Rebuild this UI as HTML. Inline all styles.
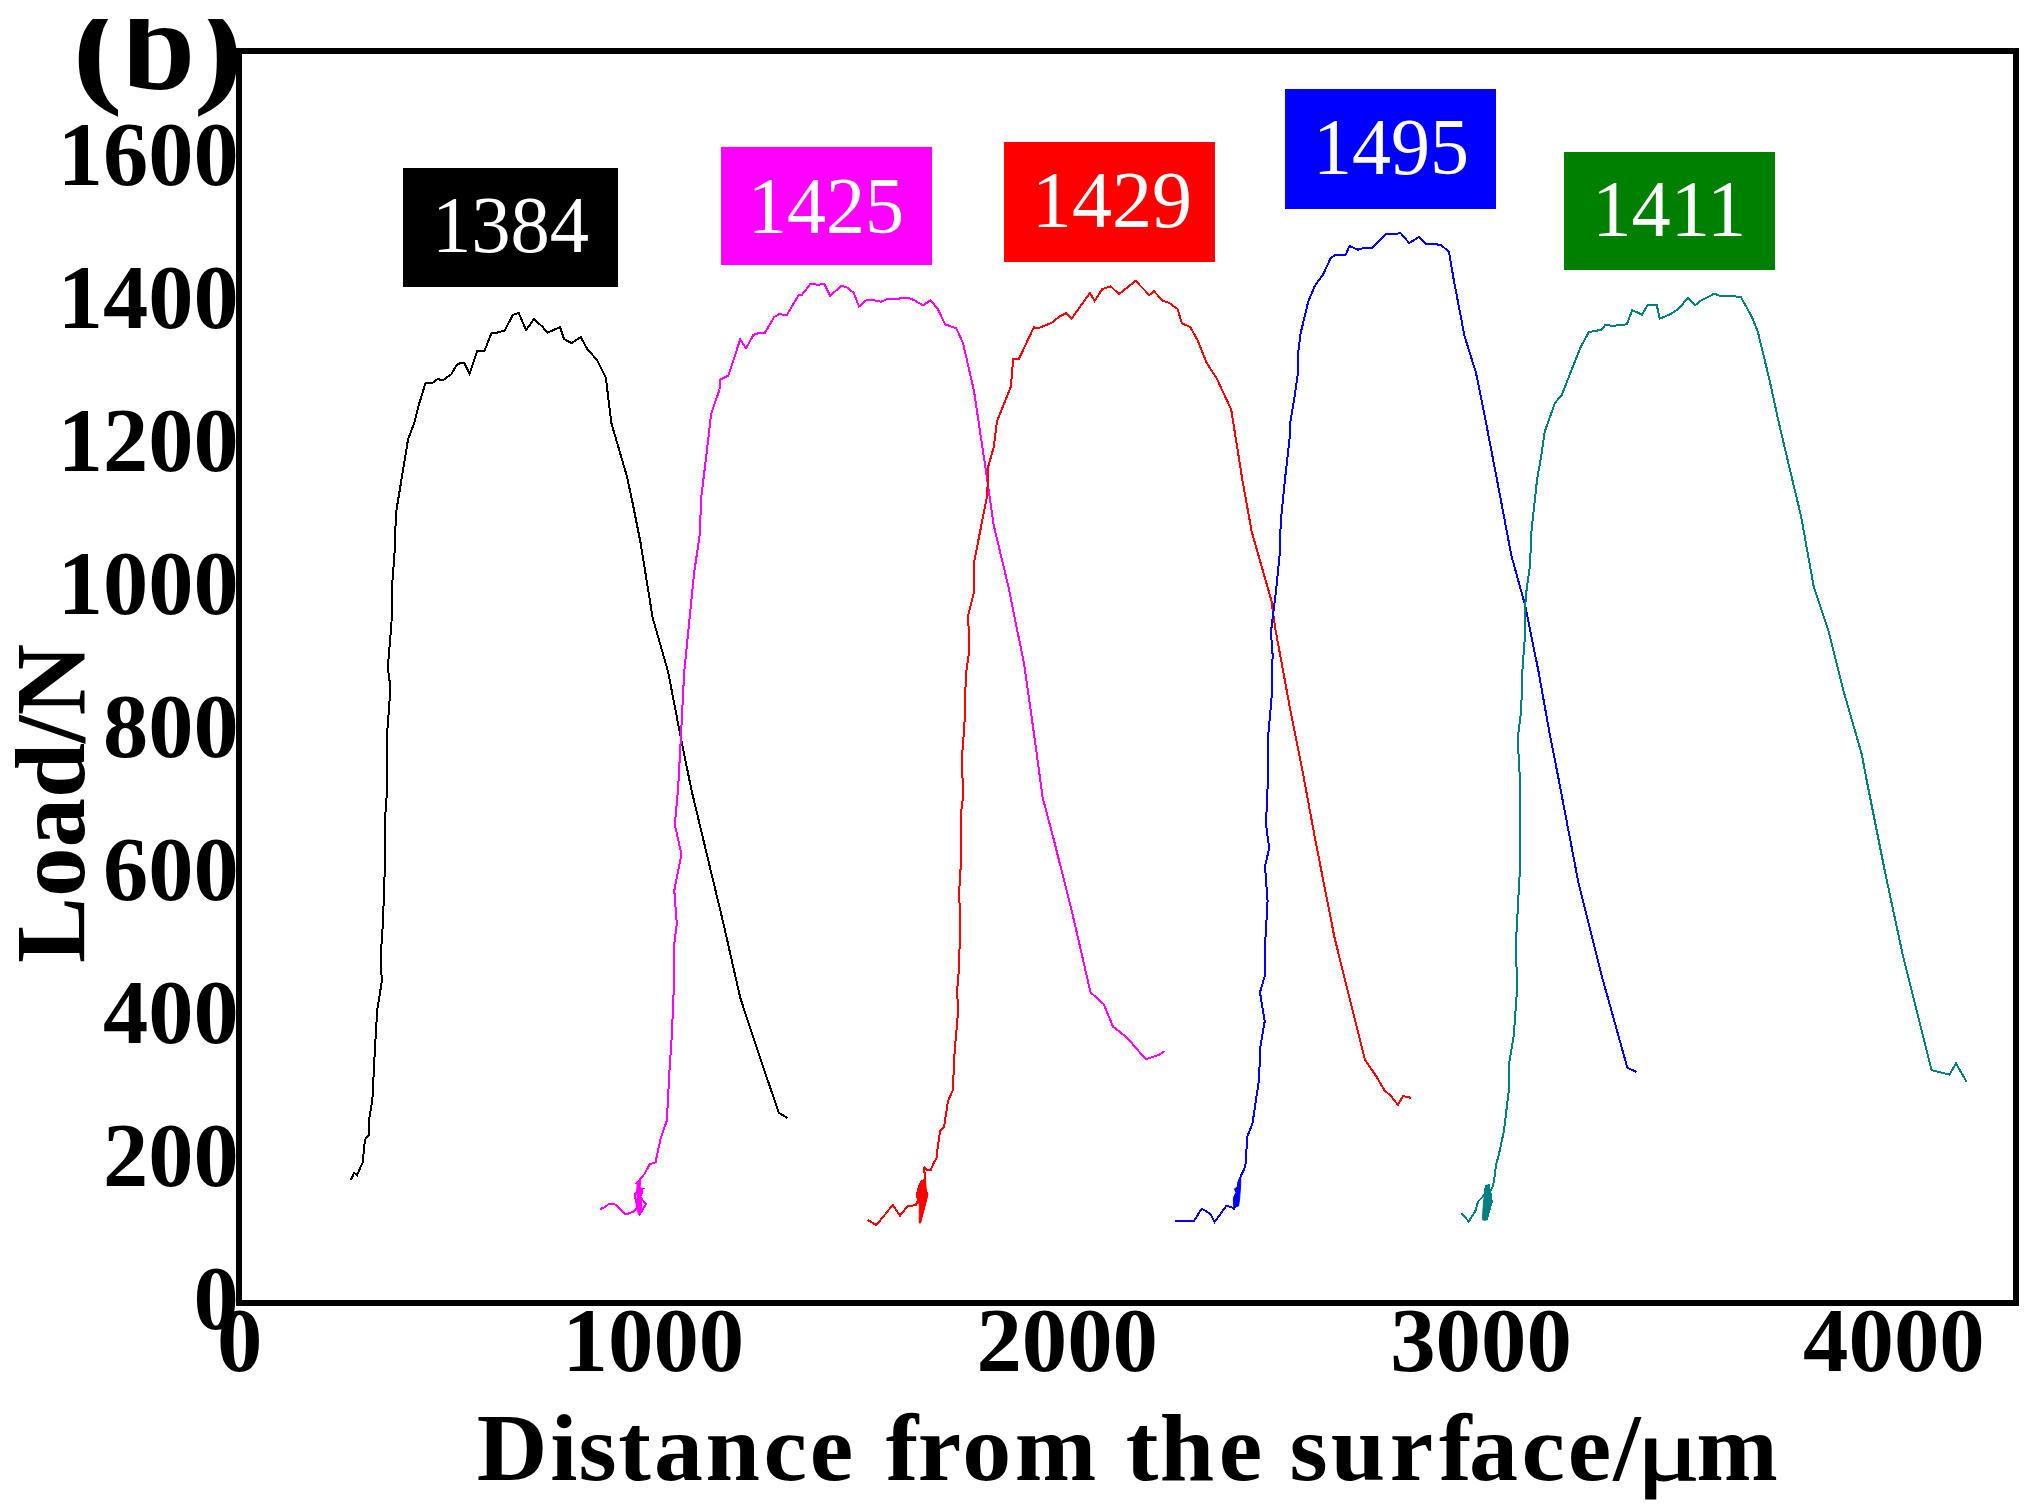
<!DOCTYPE html>
<html lang="en">
<head>
<meta charset="utf-8">
<title>Load vs distance from the surface (b)</title>
<style>
html,body{margin:0;padding:0;background:#fff;}
body{width:2033px;height:1510px;overflow:hidden;}
svg{display:block;}
text{font-family:"Liberation Serif","Times New Roman",Times,serif;}
.b{font-weight:bold;fill:#000;}
.w{fill:#fff;}
.c{fill:none;stroke-width:2;shape-rendering:crispEdges;stroke-linejoin:miter;stroke-linecap:butt;}
</style>
</head>
<body>
<svg width="2033" height="1510" viewBox="0 0 2033 1510">
<defs><clipPath id="cl"><rect x="0" y="19" width="2033" height="1491"/></clipPath></defs>
<rect x="0" y="0" width="2033" height="1510" fill="#ffffff"/>
<g clip-path="url(#cl)"><text class="b" transform="translate(72.02,89.5) scale(1.2334,1.0)" font-size="124">(</text><text class="b" transform="translate(122.36,89) scale(1.0576,1.05)" font-size="124">b</text><text class="b" transform="translate(193.16,89.5) scale(1.2191,1.0)" font-size="124">)</text></g>
<text class="b" x="193.4" y="1328.5" font-size="90" textLength="45.2" lengthAdjust="spacingAndGlyphs">0</text>
<text class="b" x="103.0" y="1185.5" font-size="90" textLength="135.6" lengthAdjust="spacingAndGlyphs">200</text>
<text class="b" x="103.0" y="1042.5" font-size="90" textLength="135.6" lengthAdjust="spacingAndGlyphs">400</text>
<text class="b" x="103.0" y="899.5" font-size="90" textLength="135.6" lengthAdjust="spacingAndGlyphs">600</text>
<text class="b" x="103.0" y="756.5" font-size="90" textLength="135.6" lengthAdjust="spacingAndGlyphs">800</text>
<text class="b" x="57.8" y="613.5" font-size="90" textLength="180.8" lengthAdjust="spacingAndGlyphs">1000</text>
<text class="b" x="57.8" y="470.5" font-size="90" textLength="180.8" lengthAdjust="spacingAndGlyphs">1200</text>
<text class="b" x="57.8" y="327.5" font-size="90" textLength="180.8" lengthAdjust="spacingAndGlyphs">1400</text>
<text class="b" x="57.8" y="184.5" font-size="90" textLength="180.8" lengthAdjust="spacingAndGlyphs">1600</text>
<text class="b" x="217.1" y="1371" font-size="90" textLength="45.4" lengthAdjust="spacingAndGlyphs">0</text>
<text class="b" x="562.6" y="1371" font-size="90" textLength="181.6" lengthAdjust="spacingAndGlyphs">1000</text>
<text class="b" x="976.4" y="1371" font-size="90" textLength="181.6" lengthAdjust="spacingAndGlyphs">2000</text>
<text class="b" x="1390.2" y="1371" font-size="90" textLength="181.6" lengthAdjust="spacingAndGlyphs">3000</text>
<text class="b" x="1803.1" y="1371" font-size="90" textLength="181.6" lengthAdjust="spacingAndGlyphs">4000</text>
<text class="b" transform="scale(1.02,1)" y="1479.8" font-size="96" x="467.4 539.4 567.1 606.1 641.2 691.7 748.5 793.8 838.2 868.4 899.7 943.5 994.9 1078.4 1103.6 1137.1 1194.9 1240.2 1264.2 1304.7 1362.4 1410.7 1440.2 1491.6 1537.1 1581.7">Distance from the surface/<tspan x="1604.1" font-size="88" font-weight="normal" stroke="#000" stroke-width="1.1" stroke-linejoin="round" textLength="62.5" lengthAdjust="spacingAndGlyphs">μ</tspan><tspan x="1663.0">m</tspan></text>
<text class="b" transform="translate(84,963) rotate(-90)" x="0" y="0" font-size="99">Load/N</text>
<rect x="239" y="51" width="1777" height="1252" fill="none" stroke="#000" stroke-width="6"/>
<polyline class="c" stroke="#000000" points="350.9,1180.0 354.1,1172.7 357.1,1175.1 362.7,1162.3 364.9,1139.7 368.6,1135.3 368.9,1120.5 372.3,1100.9 374.8,1051.7 377.2,1009.9 381.6,982.8 381.2,948.4 382.9,923.8 384.6,874.6 384.8,850.0 385.1,817.3 387.1,790.2 387.3,731.2 390.5,688.1 387.8,667.2 391.5,623.0 392.0,586.0 394.4,556.6 395.9,514.8 397.0,506.6 400.7,484.4 404.3,462.3 408.0,439.4 414.7,421.7 419.1,404.0 425.4,383.4 432.4,383.1 437.3,379.2 443.2,380.0 451.3,374.2 457.0,364.5 460.4,363.2 464.4,363.2 469.6,373.5 477.1,350.9 484.5,350.9 491.4,333.2 496.6,332.8 504.7,330.5 512.8,315.0 518.7,313.0 526.1,330.0 533.9,319.2 542.3,326.6 547.5,332.8 560.0,327.0 564.0,339.1 571.8,343.1 580.7,336.9 587.3,349.1 596.9,359.8 605.8,377.5 611.4,423.2 626.7,475.6 632.0,500.0 640.4,541.8 652.7,618.0 668.2,672.2 680.5,736.1 691.5,790.2 705.8,850.0 723.5,923.8 740.2,997.6 760.4,1059.0 778.8,1112.7 787.5,1118.1"/>
<polyline class="c" stroke="#ff00ff" points="599.9,1209.1 604.9,1207.1 608.9,1203.9 613.3,1203.9 616.3,1204.9 624.8,1214.1 627.8,1213.8 633.2,1211.6 637.2,1207.6 636.2,1200.7 634.7,1197.2 634.7,1194.2 637.2,1192.2 639.7,1214.1 646.1,1204.1 640.2,1197.2 642.2,1191.7 639.7,1189.7 642.2,1188.7 638.2,1187.8 639.2,1184.3 636.7,1183.3 639.7,1179.8 644.6,1173.8 649.6,1164.4 655.6,1162.4 656.6,1157.0 660.8,1137.8 666.9,1120.5 669.4,1071.4 671.9,1034.5 673.8,987.7 674.3,943.5 676.8,923.8 674.3,890.6 681.0,856.1 680.5,850.0 674.8,824.6 678.0,790.2 681.2,731.2 684.2,672.2 689.6,618.0 694.0,573.8 700.1,532.0 700.9,500.0 702.1,490.0 706.5,454.4 711.0,414.6 719.5,389.5 720.0,379.9 728.4,375.5 740.2,339.4 746.1,348.2 753.4,334.9 758.2,333.2 764.5,333.5 774.1,317.2 779.3,314.0 786.6,315.4 798.5,295.4 801.4,295.4 810.7,283.6 817.6,284.8 824.3,284.0 830.2,295.8 841.2,285.9 846.4,287.0 853.8,292.9 859.0,306.6 867.1,299.5 873.0,300.2 881.1,301.7 887.7,298.8 898.8,298.8 901.0,297.7 908.4,298.0 914.3,300.2 923.1,305.4 930.5,300.2 937.9,309.1 945.0,324.3 956.3,328.3 963.0,343.0 974.0,391.0 987.3,480.0 993.5,524.3 1008.2,585.8 1024.2,664.5 1035.3,743.2 1042.6,797.3 1053.9,840.0 1072.5,914.2 1090.5,992.3 1103.7,1004.2 1113.0,1026.7 1126.7,1037.3 1145.8,1059.3 1158.5,1055.0 1164.4,1051.3"/>
<polygon fill="#ff00ff" stroke="#ff00ff" stroke-width="1" points="636.2,1182.3 640.7,1179.5 640.7,1184.5 639.7,1188.0 642.7,1188.3 642.7,1192.5 640.7,1194.5 640.7,1197.0 641.7,1202.0 641.7,1208.0 640.7,1213.0 640.7,1214.6 638.2,1214.6 638.2,1213.0 636.2,1207.6 636.2,1201.0 637.2,1197.0 636.7,1190.0 637.2,1185.0"/>
<polyline class="c" stroke="#ff0000" points="867.7,1219.9 876.4,1225.2 892.8,1204.8 900.0,1215.7 907.7,1205.9 913.0,1205.6 916.1,1204.6 918.3,1199.8 916.7,1195.6 918.8,1187.1 921.4,1181.8 924.9,1179.1 919.9,1222.6 925.1,1204.0 927.3,1194.0 925.7,1191.3 924.9,1179.1 924.9,1172.8 923.6,1172.2 923.6,1168.5 924.6,1167.7 926.7,1169.9 930.7,1169.9 934.2,1162.2 937.1,1156.9 937.4,1150.0 940.0,1131.3 944.0,1127.3 948.0,1100.9 952.8,1090.3 954.6,1051.9 957.8,1014.8 957.3,988.3 959.1,967.1 960.2,919.4 959.1,893.0 960.7,866.5 961.2,840.0 961.0,813.3 963.0,797.3 962.0,756.7 964.4,725.9 965.9,674.3 969.4,649.7 968.1,615.3 973.8,593.1 973.8,563.6 986.6,498.4 987.7,485.0 988.0,467.2 993.9,446.5 996.9,421.4 1010.9,386.7 1013.1,359.4 1018.7,359.4 1033.8,327.3 1038.2,328.4 1052.2,322.5 1059.6,316.4 1066.5,313.0 1071.4,318.9 1089.9,293.0 1094.6,300.9 1102.4,288.9 1110.8,286.4 1118.9,294.1 1135.6,280.9 1149.3,295.0 1154.0,291.3 1162.9,300.9 1169.5,303.1 1177.6,309.0 1181.8,323.3 1190.2,327.0 1197.6,340.3 1206.4,362.4 1216.8,378.6 1231.2,409.6 1242.4,480.0 1251.7,531.6 1271.4,600.5 1275.1,627.6 1291.0,713.7 1303.3,775.1 1315.3,840.0 1334.6,938.0 1337.6,950.0 1347.7,990.5 1357.2,1028.7 1365.0,1059.7 1376.3,1076.4 1384.7,1090.7 1390.6,1095.5 1397.8,1104.8 1403.1,1096.1 1410.9,1097.8"/>
<polygon fill="#ff0000" stroke="#ff0000" stroke-width="1" points="921.0,1182.0 925.5,1178.5 926.3,1191.0 928.0,1194.0 925.5,1204.0 920.6,1223.0 919.3,1223.0 919.3,1205.0 916.8,1196.0 918.8,1187.0"/>
<polyline class="c" stroke="#0000ff" points="1175.1,1221.0 1193.9,1221.0 1201.5,1209.1 1204.2,1209.9 1210.6,1214.1 1214.5,1222.0 1226.4,1205.9 1231.2,1206.9 1233.9,1208.8 1236.0,1206.4 1240.2,1177.5 1244.4,1168.5 1246.3,1160.6 1246.7,1137.9 1252.5,1123.4 1259.2,1078.3 1260.0,1049.2 1264.7,1021.4 1260.0,992.3 1265.0,975.1 1265.0,945.9 1267.6,900.9 1265.0,866.5 1269.2,848.0 1266.0,824.3 1267.7,785.0 1268.2,735.8 1271.9,694.0 1272.6,654.6 1270.9,632.5 1276.3,588.2 1280.0,551.3 1280.7,521.8 1284.9,480.0 1290.0,435.0 1290.4,421.6 1294.1,399.4 1297.8,374.4 1298.2,352.2 1300.7,333.0 1308.1,302.1 1314.8,285.8 1322.9,274.8 1331.0,257.5 1335.9,254.8 1345.7,254.8 1349.4,246.0 1357.8,249.7 1364.2,247.8 1372.0,247.8 1386.0,233.9 1396.7,233.9 1400.3,232.7 1409.2,243.0 1418.8,237.1 1426.2,244.5 1435.8,244.1 1441.7,245.5 1449.0,251.9 1453.5,278.4 1464.5,336.0 1476.0,372.9 1485.5,420.0 1497.8,483.9 1511.3,555.3 1524.9,604.5 1538.4,670.9 1549.4,732.3 1558.8,780.0 1578.6,883.6 1601.5,975.0 1627.4,1067.9 1636.5,1071.9"/>
<polygon fill="#0000ff" stroke="#0000ff" stroke-width="1" points="1233.9,1208.8 1233.3,1200.3 1233.9,1196.6 1236.0,1192.4 1234.4,1188.9 1237.3,1187.1 1237.8,1182.3 1239.2,1178.6 1240.7,1177.0 1240.7,1183.4 1239.7,1197.7 1238.6,1206.1 1236.0,1206.4"/>
<polyline class="c" stroke="#008080" points="1461.4,1213.3 1468.8,1221.5 1475.4,1210.9 1478.1,1201.4 1484.4,1195.0 1486.0,1185.5 1484.4,1220.4 1489.2,1184.4 1486.5,1219.9 1491.8,1201.9 1490.3,1191.3 1492.4,1187.1 1494.0,1180.7 1496.1,1164.8 1498.7,1155.3 1504.0,1130.4 1509.5,1084.7 1509.2,1063.4 1513.7,1035.9 1516.8,993.3 1516.2,938.4 1519.8,871.4 1520.4,780.0 1518.7,764.3 1518.2,734.8 1521.2,710.2 1522.4,670.9 1524.9,636.4 1525.6,597.1 1530.0,565.1 1531.5,530.7 1537.1,479.0 1541.0,457.4 1544.7,431.6 1555.0,402.8 1561.6,395.4 1572.0,368.9 1580.5,347.5 1588.9,332.0 1601.5,329.8 1605.2,325.0 1613.3,325.8 1624.4,324.6 1627.0,323.9 1632.2,310.1 1642.1,314.7 1647.5,305.1 1656.8,305.4 1659.8,318.7 1670.1,314.3 1678.2,309.1 1688.1,297.7 1695.2,305.1 1700.3,301.0 1714.4,293.6 1721.0,296.3 1734.3,296.3 1740.9,297.0 1752.0,317.2 1757.9,332.0 1769.7,380.7 1778.2,420.0 1789.2,466.7 1801.0,515.9 1813.8,587.2 1828.6,631.5 1843.4,690.5 1861.8,754.5 1866.6,780.0 1884.9,871.4 1903.1,956.7 1931.5,1070.1 1949.5,1074.6 1955.9,1063.4 1966.5,1081.6"/>
<polygon fill="#008080" stroke="#008080" stroke-width="1" points="1484.4,1195.0 1486.0,1185.5 1489.2,1184.4 1490.3,1192.4 1491.8,1201.9 1489.2,1210.9 1486.5,1219.9 1484.4,1220.4 1482.3,1219.4 1482.8,1212.5 1483.4,1203.5"/>
<rect x="403" y="168" width="215" height="119" fill="#000000"/>
<text class="w" x="431.9" y="251.5" font-size="81" textLength="157.3" lengthAdjust="spacingAndGlyphs">1384</text>
<rect x="721" y="147" width="211" height="118" fill="#ff00ff"/>
<text class="w" x="747.8" y="232.5" font-size="81" textLength="156.4" lengthAdjust="spacingAndGlyphs">1425</text>
<rect x="1004" y="142" width="211" height="120" fill="#ff0000"/>
<text class="w" x="1031.8" y="227" font-size="81" textLength="160.4" lengthAdjust="spacingAndGlyphs">1429</text>
<rect x="1285" y="89" width="211" height="120" fill="#0000ff"/>
<text class="w" x="1313.0" y="173.5" font-size="81" textLength="156.1" lengthAdjust="spacingAndGlyphs">1495</text>
<rect x="1564" y="152" width="211" height="118" fill="#008000"/>
<text class="w" x="1592.3" y="235.5" font-size="81" textLength="153.8" lengthAdjust="spacingAndGlyphs">1411</text>
</svg>
</body>
</html>
